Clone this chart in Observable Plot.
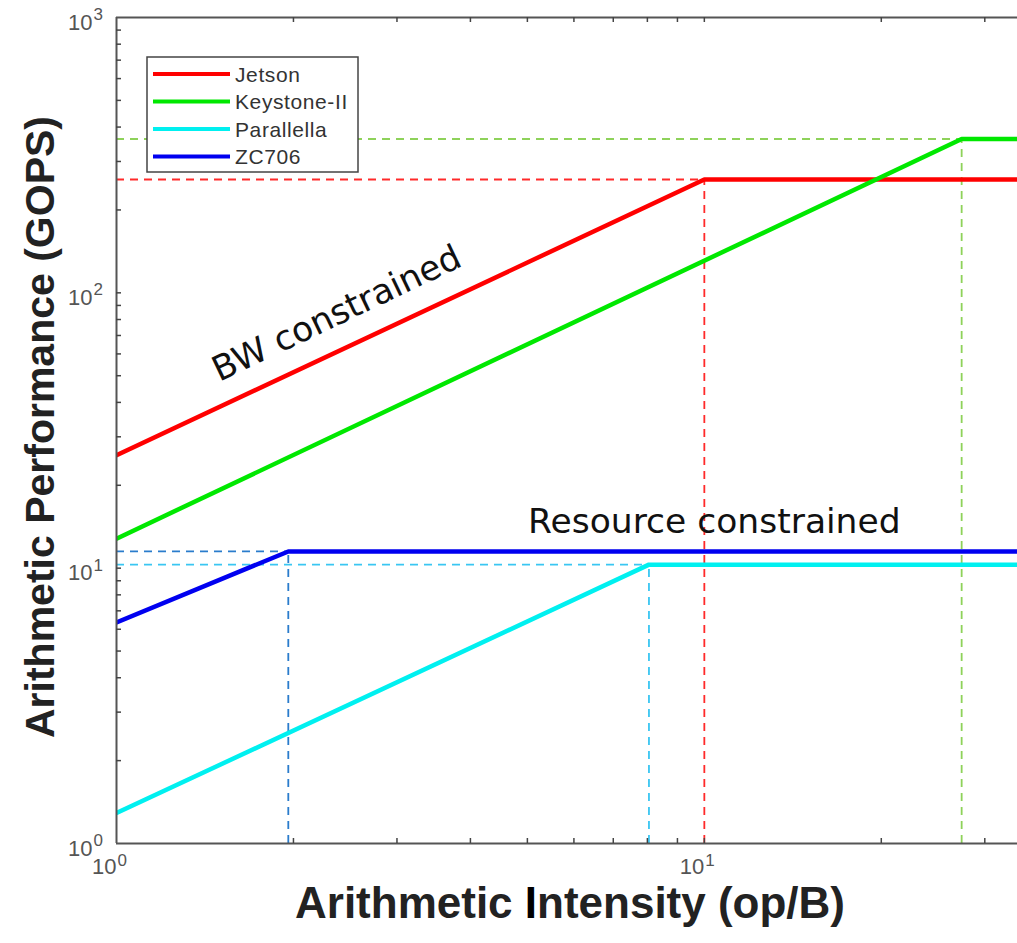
<!DOCTYPE html>
<html>
<head>
<meta charset="utf-8">
<script src="https://cdn.jsdelivr.net/npm/d3@7"></script>
<script src="https://cdn.jsdelivr.net/npm/@observablehq/plot@0.6"></script>
<style>
  html, body { margin: 0; padding: 0; background: #fff; }
  #chart svg { display: block; }
</style>
</head>
<body>
<div id="chart"></div>
<script>
// ---- data ----
const series      = ["Jetson", "Keystone-II", "Parallella", "ZC706"];
const lineColors  = ["#ff0000", "#00e800", "#00f0f0", "#0000f0"];
const dashColors  = ["#ff2a2a", "#8ed25a", "#3ac6f2", "#2a7ccc"];
const perfAtOne   = [25.7, 12.8, 1.29, 6.35];   // GOPS at 1 op/B
const ridgeX      = [10, 27.4, 8.05, 1.96];     // op/B where roof flattens
const peakPerf    = [258, 362, 10.3, 11.5];     // GOPS (compute roof)
const xDomain     = [1, 34.1];
const yDomain     = [1, 1000];
const xMajorTicks = [1, 10];
const xMinorTicks = [2, 3, 4, 5, 6, 7, 8, 9, 10, 20, 30];
const yMajorTicks = [1, 10, 100, 1000];
const yMinorTicks = [2, 3, 4, 5, 6, 7, 8, 9, 10, 20, 30, 40, 50, 60, 70, 80, 90, 100,
                     200, 300, 400, 500, 600, 700, 800, 900];
const xTitle = "Arithmetic Intensity (op/B)";
const yTitle = "Arithmetic Performance (GOPS)";
const annotations = [
  {text: "BW constrained", x: 2.37, y: 84, rotate: -25.5},
  {text: "Resource constrained", x: 10.4, y: 14.7, rotate: 0}
];

// ---- layout ----
const W = 1017, H = 943;
const mL = 116, mT = 17, mR = 0, mB = 100;
const plotW = W - mL - mR, plotH = H - mT - mB;

const lineData = series.flatMap((s, i) => [
  {s, x: xDomain[0], y: perfAtOne[i]},
  {s, x: ridgeX[i], y: peakPerf[i]},
  {s, x: xDomain[1], y: peakPerf[i]}
]);

const tickFont = "Liberation Sans, Arial, sans-serif";
const marks = [];

// dashed guides
series.forEach((s, i) => {
  marks.push(Plot.ruleY([peakPerf[i]], {x1: xDomain[0], x2: ridgeX[i], stroke: dashColors[i], strokeWidth: 1.8, strokeDasharray: "8,6"}));
  marks.push(Plot.ruleX([ridgeX[i]], {y1: yDomain[0], y2: peakPerf[i], stroke: dashColors[i], strokeWidth: 1.8, strokeDasharray: "8,6"}));
});

// roofline curves
series.forEach((s, i) => {
  marks.push(Plot.line(lineData.filter(d => d.s === s), {x: "x", y: "y", stroke: lineColors[i], strokeWidth: 4.5, clip: true}));
});

// frame (left, bottom, top)
marks.push(Plot.ruleX([xDomain[0]], {stroke: "#555", strokeWidth: 2}));
marks.push(Plot.ruleY([yDomain[0], yDomain[1]], {stroke: "#555", strokeWidth: 2}));

// inward ticks
marks.push(Plot.tickX(xMinorTicks, {x: d => d, insetTop: plotH - 5, stroke: "#444", strokeWidth: 1.5}));
marks.push(Plot.tickX(xMinorTicks, {x: d => d, insetBottom: plotH - 5, stroke: "#444", strokeWidth: 1.5}));
marks.push(Plot.tickY(yMinorTicks, {y: d => d, insetRight: plotW - 5, stroke: "#444", strokeWidth: 1.5}));

// tick labels (10 with superscript exponent)
marks.push(Plot.text(yMajorTicks, {y: d => d, frameAnchor: "left", dx: -24, dy: 5, textAnchor: "end", text: () => "10", fontSize: 22, fill: "#555", fontFamily: tickFont}));
marks.push(Plot.text(yMajorTicks, {y: d => d, frameAnchor: "left", dx: -23, dy: -3, textAnchor: "start", text: d => String(Math.round(Math.log10(d))), fontSize: 17, fill: "#555", fontFamily: tickFont}));
marks.push(Plot.text(xMajorTicks, {x: d => d, frameAnchor: "bottom", dy: 30, textAnchor: "end", text: () => "10", fontSize: 22, fill: "#555", fontFamily: tickFont}));
marks.push(Plot.text(xMajorTicks, {x: d => d, frameAnchor: "bottom", dy: 22, dx: 1, textAnchor: "start", text: d => String(Math.round(Math.log10(d))), fontSize: 17, fill: "#555", fontFamily: tickFont}));

// x axis title
marks.push(Plot.text([xTitle], {frameAnchor: "bottom", dy: 74, dx: 3, text: d => d, fontSize: 44, fontWeight: "bold", fill: "#222", fontFamily: tickFont}));

// annotations
annotations.forEach(a => {
  marks.push(Plot.text([a], {x: "x", y: "y", text: "text", rotate: a.rotate, fontSize: 34.5, fill: "#111", fontFamily: "DejaVu Sans, sans-serif"}));
});

const svg = Plot.plot({
  width: W, height: H,
  marginLeft: mL, marginTop: mT, marginRight: mR, marginBottom: mB,
  x: {type: "log", domain: xDomain, axis: null},
  y: {type: "log", domain: yDomain, axis: null},
  style: {background: "#fff", overflow: "visible"},
  marks
});

const sel = d3.select(svg);

// y axis title (rotated, left of the frame)
sel.append("text")
  .attr("transform", `translate(54,${mT + plotH / 2 - 3}) rotate(-90)`)
  .attr("text-anchor", "middle")
  .attr("font-family", tickFont).attr("font-size", 41).attr("font-weight", "bold")
  .attr("fill", "#222").text(yTitle);

// legend box inside the plot (top-left)
const lg = sel.append("g").attr("transform", "translate(147,57)");
lg.append("rect").attr("width", 211).attr("height", 115).attr("fill", "#fff").attr("stroke", "#444").attr("stroke-width", 1.5);
series.forEach((s, i) => {
  const y = 17 + i * 27.5;
  lg.append("line").attr("x1", 6).attr("x2", 83).attr("y1", y).attr("y2", y)
    .attr("stroke", lineColors[i]).attr("stroke-width", 4);
  lg.append("text").attr("x", 88).attr("y", y).attr("dy", "0.36em")
    .attr("text-anchor", "start")
    .attr("font-family", tickFont).attr("font-size", 21).attr("letter-spacing", "0.6")
    .attr("fill", "#333").text(s);
});

// darker "I" in the x title, as in the reference
sel.selectAll("text").each(function() {
  if (this.textContent === xTitle) {
    const t = d3.select(this);
    t.text(null);
    t.append("tspan").text("Arithmetic ");
    t.append("tspan").attr("fill", "#000").text("I");
    t.append("tspan").text("ntensity (op/B)");
  }
});

document.getElementById("chart").appendChild(svg);
</script>
</body>
</html>
